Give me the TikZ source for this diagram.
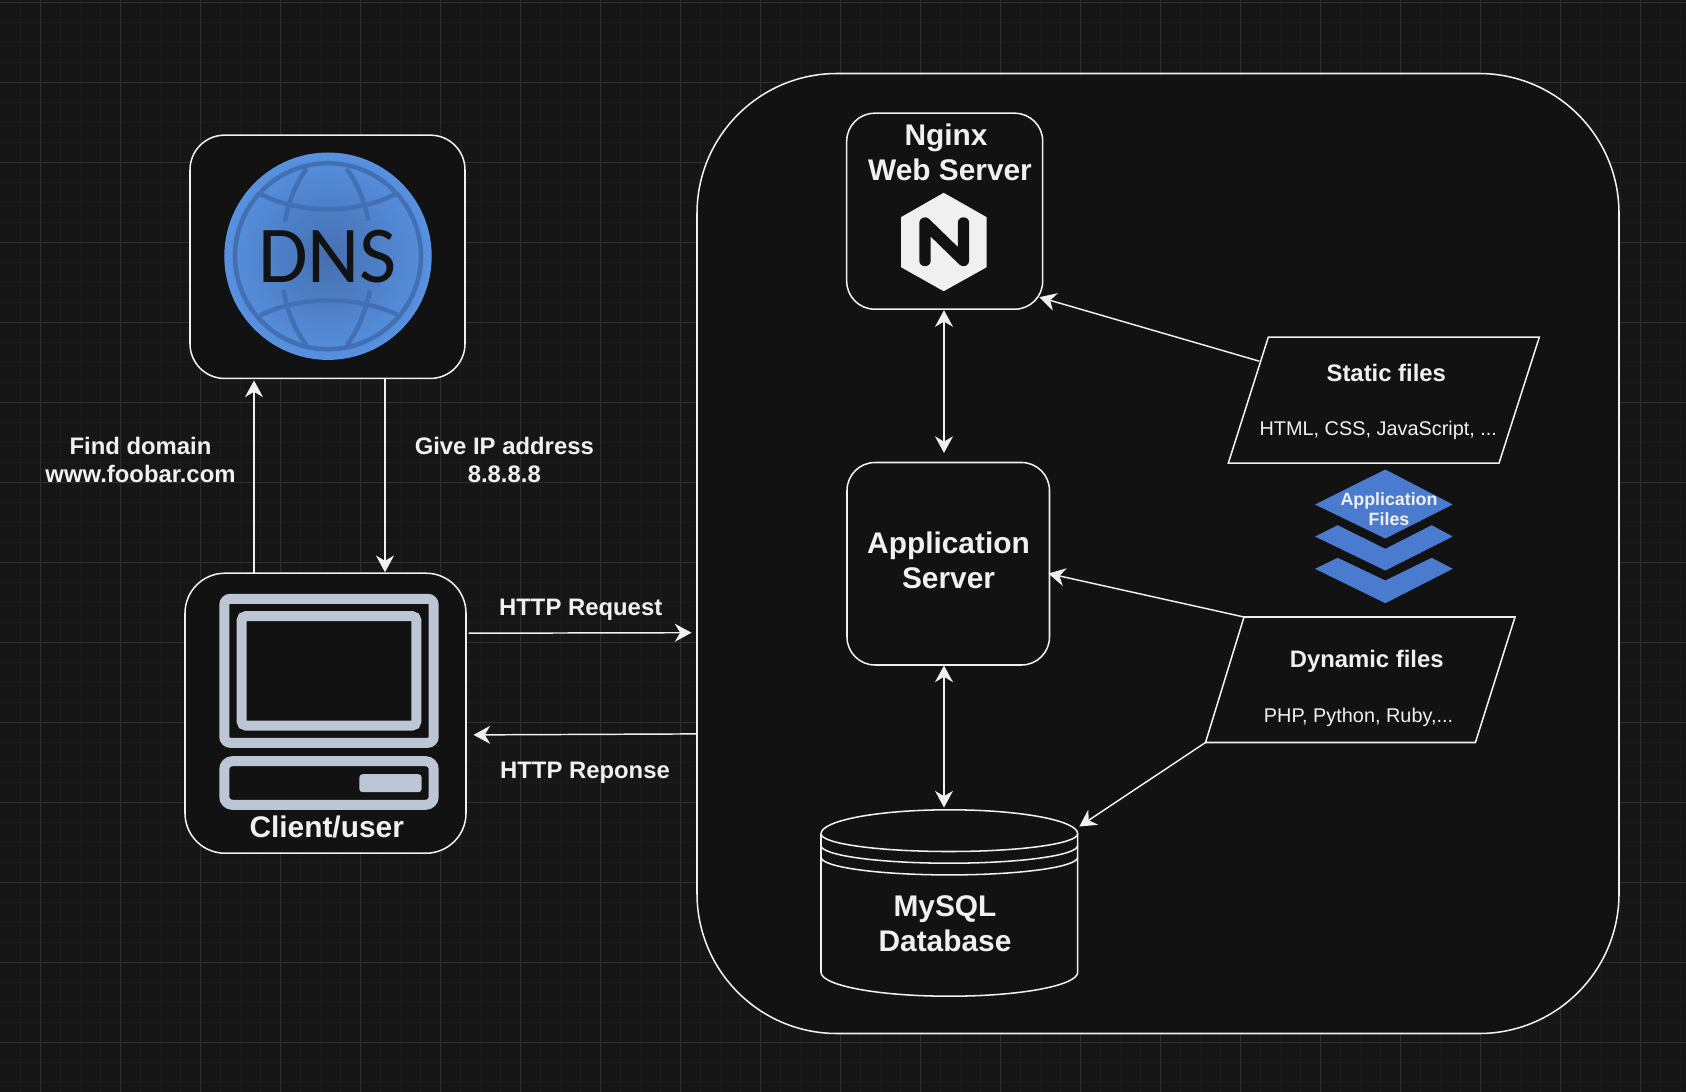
\documentclass[tikz,border=0pt]{standalone}
\usepackage{fontspec}
\setmainfont{Liberation Sans}
\newfontfamily\dnsfont{Carlito}
\usetikzlibrary{arrows.meta,calc}
\definecolor{pagebg}{HTML}{161616}
\definecolor{boxbg}{HTML}{121212}
\definecolor{gridminor}{HTML}{1C1C1C}
\definecolor{gridmajor}{HTML}{2F2F2F}
\definecolor{ink}{HTML}{F0F0F0}
\definecolor{iconsteel}{HTML}{BDC6D4}
\definecolor{globeedge}{HTML}{5791E0}
\definecolor{globemid}{HTML}{456FAF}
\definecolor{globeline}{HTML}{4270B2}
\definecolor{layerblue}{HTML}{4A7BCF}
\tikzset{
  pxbox/.style 2 args={draw=ink,fill=boxbg,line width=1.15pt,inner sep=0pt,outer sep=0pt,
     minimum width=#1*0.75pt,minimum height=#2*0.75pt},
  arr/.style={draw=ink,line width=1.1pt,-{Stealth[length=12.5pt,width=13.5pt,inset=4pt]}},
  biarr/.style={draw=ink,line width=1.1pt,{Stealth[length=12.5pt,width=13.5pt,inset=4pt]}-{Stealth[length=12.5pt,width=13.5pt,inset=4pt]}},
  shapeline/.style={draw=ink,line width=1.15pt,fill=boxbg,line join=miter},
  bigtext/.style={text=ink,font=\fontsize{22.4}{26.3}\selectfont\bfseries,align=center,inner sep=0pt},
  labeltext/.style={text=ink,font=\fontsize{17.9}{21}\selectfont\bfseries,align=center,inner sep=0pt},
  smalltext/.style={text=ink,font=\fontsize{14.9}{18}\selectfont,inner sep=0pt},
  layertext/.style={text=ink,font=\fontsize{13.35}{15}\selectfont\bfseries,align=center,inner sep=0pt},
  iconline/.style={draw=iconsteel,line width=7.5pt},
  globeink/.style={draw=globeline,line width=3.4pt},
}
\begin{document}
\begin{tikzpicture}[x=0.75pt,y=-0.75pt]
\useasboundingbox (0,0) rectangle (1686,1092);
\fill[pagebg] (0,0) rectangle (1686,1092);
% grid
\foreach \gx in {20.5,40.5,...,1680.5} \draw[gridminor,line width=0.75pt] (\gx,0) -- (\gx,1092);
\foreach \gy in {22.5,42.5,...,1082.5} \draw[gridminor,line width=0.75pt] (0,\gy) -- (1686,\gy);
\foreach \gx in {40.5,120.5,...,1680.5} \draw[gridmajor,line width=0.75pt] (\gx,0) -- (\gx,1092);
\foreach \gy in {2.5,82.5,...,1082.5} \draw[gridmajor,line width=0.75pt] (0,\gy) -- (1686,\gy);

% boxes
\node[pxbox={922}{960},rounded corners=105pt] (server) at (1158,553.5) {};
\node[pxbox={275}{243.3},rounded corners=26pt] (dns) at (327.5,256.8) {};
\node[pxbox={281}{280},rounded corners=30pt] (client) at (325.5,713.2) {};
\node[pxbox={196}{196},rounded corners=21pt] (nginx) at (944.7,211.2) {};
\node[pxbox={202.5}{202.5},rounded corners=21pt] (app) at (948.25,563.75) {};

% DNS globe
\shade[inner color=globemid,outer color=globeedge] (328,256.2) circle[radius=103.7];
\draw[globeink] (328,256.2) circle[radius=93];
\draw[globeink] (260,193.8) .. controls (300,214.5) and (356,214.5) .. (396,193.8);
\draw[globeink] (260,315.5) .. controls (300,295.5) and (356,295.5) .. (397,314.5);
\draw[globeink] (306.7,168.8) .. controls (295,184.5) and (288,202.5) .. (285,222.2);
\draw[globeink] (346.7,168.8) .. controls (358,184.5) and (365,202.5) .. (368.3,220.5);
\draw[globeink] (283.3,289.8) .. controls (287,310.5) and (295,330.5) .. (306.7,345.5);
\draw[globeink] (370,289.8) .. controls (366,310.5) and (358,330.5) .. (346.7,345.5);
\node[text=boxbg,inner sep=0pt,anchor=base,font=\dnsfont\fontsize{60.5}{62}\selectfont] (dnstext) at (327.5,282.2) {DNS};

% client icon
\draw[iconline,rounded corners=4.5pt] (224.3,598.8) rectangle (433.7,742.8);
\draw[iconline,rounded corners=3pt] (241.7,616.2) rectangle (416.3,725.5);
\draw[iconline,rounded corners=6pt] (224.3,761.2) rectangle (433.7,804.8);
\fill[iconsteel,rounded corners=2.5pt] (359.3,774.2) rectangle (421.7,792.2);
\node[bigtext,anchor=base] (clienttext) at (326.7,837.5) {Client/user};

% nginx
\node[bigtext,anchor=center] (nginxtext) at (950,152) {Nginx\hspace*{6pt}\\Web Server};
\fill[ink] (943.7,192.8) -- (986.7,217.2) -- (986.7,267.2) -- (943.7,291.2) -- (901,267.2) -- (901,217.2) -- cycle;
\draw[boxbg,line width=8.6pt,line cap=round,line join=round] (925,260.5) -- (925,223) -- (963.5,260.5) -- (963.5,223);

% application server
\node[bigtext,anchor=center] (apptext) at (948.5,560.5) {Application\\Server};

% parallelograms
\coordinate (stTL) at (1268.3,337.2);
\coordinate (stTR) at (1539.3,337.2);
\coordinate (stBR) at (1499,463.2);
\coordinate (stBL) at (1228.3,463.2);
\coordinate (stEdge) at (1259.3,361.2);
\draw[shapeline] (stTL) -- (stTR) -- (stBR) -- (stBL) -- cycle;
\node[text=ink,font=\fontsize{17.9}{21}\selectfont\bfseries,inner sep=0pt,anchor=base] (sttitle) at (1386.3,381.5) {Static files};
\node[smalltext,anchor=base] (stbody) at (1378.3,435.5) {HTML, CSS, JavaScript, ...};

\coordinate (dyTL) at (1244,617);
\coordinate (dyTR) at (1515,617);
\coordinate (dyBR) at (1475.4,742.5);
\coordinate (dyBL) at (1205.5,742.5);
\draw[shapeline] (dyTL) -- (dyTR) -- (dyBR) -- (dyBL) -- cycle;
\node[text=ink,font=\fontsize{17.9}{21}\selectfont\bfseries,inner sep=0pt,anchor=base] (dytitle) at (1366.7,667.5) {Dynamic files};
\node[smalltext,anchor=base] (dybody) at (1358.5,722) {PHP, Python, Ruby,...};

% layers
\fill[layerblue] (1315,504.5) -- (1385.3,469.5) -- (1452.7,504.5) -- (1385.3,538.5) -- cycle;
\fill[layerblue] (1315,536.5) -- (1337.7,525.2) -- (1385.3,548.8) -- (1431.7,525.2) -- (1452.7,536.5) -- (1385.3,570.5) -- cycle;
\fill[layerblue] (1315,568.8) -- (1337.7,557.8) -- (1385.3,580.5) -- (1431.7,557.8) -- (1452.7,568.8) -- (1385.3,603.2) -- cycle;
\node[layertext,anchor=center] (layertext) at (1389,509.5) {Application\\Files};

% database
\coordinate (dbtop) at (944,807.5);
\coordinate (dbcorner) at (1079.3,826.5);
\draw[shapeline] (821,833.8) .. controls (821,820.5) and (878,809.8) .. (949.35,809.8)
   .. controls (1020.7,809.8) and (1077.7,820.5) .. (1077.7,833.8)
   -- (1077.7,972.2) .. controls (1077.7,985.5) and (1020.7,996.2) .. (949.35,996.2)
   .. controls (878,996.2) and (821,985.5) .. (821,972.2) -- cycle;
\foreach \dy in {833.8,845.5,857.2}
  \draw[draw=ink,line width=1.15pt] (821,\dy) .. controls (821,\dy+9.8) and (878,\dy+17.7) .. (949.35,\dy+17.7)
     .. controls (1020.7,\dy+17.7) and (1077.7,\dy+9.8) .. (1077.7,\dy);
\node[bigtext,anchor=center] (dbtext) at (945,924) {MySQL\\Database};

% free labels
\node[labeltext,anchor=center] (findtext) at (140.5,459.5) {Find domain\\www.foobar.com};
\node[labeltext,anchor=center] (givetext) at (504.3,459.5) {Give IP address\\8.8.8.8};
\node[labeltext,anchor=base] (reqtext) at (580.7,615.5) {HTTP Request};
\node[labeltext,anchor=base] (resptext) at (585,778) {HTTP Reponse};

% connectors
\draw[arr] ($(client.north west)+(69,0)$) -- ($(dns.south west)+(64,2)$);
\draw[arr] ($(dns.south west)+(195,0)$) -- ($(client.north west)+(200,-1)$);
\draw[arr] ($(client.north east)+(2.5,60)$) -- ($(server.north west)+(-5.5,559.2)$);
\draw[arr] ($(server.north west)+(0,660.4)$) -- ($(client.north east)+(7.5,161.7)$);
\draw[biarr] ($(nginx.south)+(-0.7,1)$) -- ($(app.north west)+(97,-9.5)$);
\draw[biarr] ($(app.south west)+(97,0.5)$) -- (dbtop);
\draw[arr] (stEdge) -- ($(nginx.south east)+(-3.4,-12)$);
\draw[arr] (dyTL) -- ($(app.east)+(-1.1,9.75)$);
\draw[arr] (dyBL) -- (dbcorner);
\end{tikzpicture}
\end{document}
